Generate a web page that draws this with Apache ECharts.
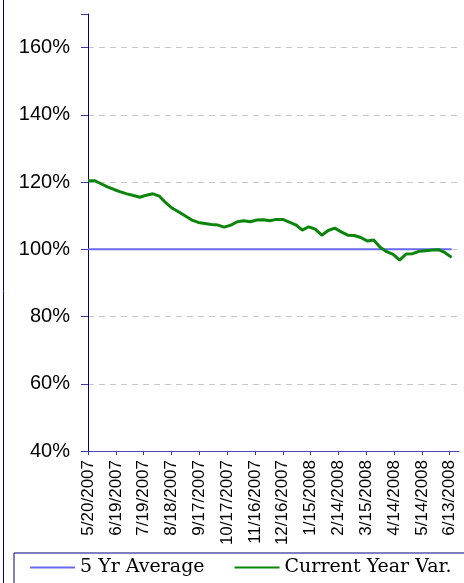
<!DOCTYPE html>
<html>
<head>
<meta charset="utf-8">
<script src="https://cdn.jsdelivr.net/npm/echarts@6/dist/echarts.min.js"></script>
<style>
  html, body { margin: 0; padding: 0; background: #fff; }
  #chart { width: 464px; height: 583px; }
</style>
</head>
<body>
<div id="chart"></div>
<script>
// axis runs daily from 5/20/2007 to 6/23/2008, labelled every 30 days
var axisStart = '2007-05-20'
var axisEnd = '2008-06-23'
var labelEvery = 30

// weekly readings, first one on 5/20/2007
var weekStep = 7
var currentYear = [
  120.4, 120.4, 119.5, 118.6, 117.8, 117.1, 116.5, 116.0, 115.5, 116.1,
  116.5, 115.8, 113.8, 112.2, 111.1, 109.9, 108.7, 108.0, 107.7, 107.4,
  107.2, 106.6, 107.2, 108.2, 108.5, 108.2, 108.7, 108.8, 108.5, 108.9,
  108.9, 108.1, 107.3, 105.7, 106.7, 106.0, 104.2, 105.6, 106.3, 105.2,
  104.2, 104.1, 103.5, 102.5, 102.8, 100.6, 99.3, 98.5, 96.8, 98.6,
  98.7, 99.4, 99.6, 99.8, 99.9, 99.0, 97.6
]
var fiveYrAvg = [
  100, 100, 100, 100, 100, 100, 100, 100, 100, 100,
  100, 100, 100, 100, 100, 100, 100, 100, 100, 100,
  100, 100, 100, 100, 100, 100, 100, 100, 100, 100,
  100, 100, 100, 100, 100, 100, 100, 100, 100, 100,
  100, 100, 100, 100, 100, 100, 100, 100, 100, 100,
  100, 100, 100, 100, 100, 100, 100
]

// build the daily category list
var days = []
var d = new Date(axisStart + 'T00:00:00Z')
var end = new Date(axisEnd + 'T00:00:00Z')
while (d <= end) {
  days.push((d.getUTCMonth() + 1) + '/' + d.getUTCDate() + '/' + d.getUTCFullYear())
  d = new Date(d.getTime() + 86400000)
}

function weekly(arr) {
  return arr.map(function (v, i) { return [days[i * weekStep], v] })
}

var chart = echarts.init(document.getElementById('chart'))
chart.setOption({
  animation: false,
  grid: { left: 88, top: 14, right: 5, bottom: 132 },
  graphic: [
    {
      type: 'line',
      shape: { x1: 3.5, y1: 0, x2: 3.5, y2: 583 },
      style: { stroke: '#00007f', lineWidth: 1 }
    }
  ],
  legend: {
    left: 14,
    top: 553,
    width: 600,
    padding: [5, 40, 40, 16],
    borderColor: '#00007f',
    borderWidth: 1,
    itemWidth: 45,
    itemHeight: 2,
    itemGap: 30,
    icon: 'rect',
    textStyle: { fontFamily: 'DejaVu Serif', fontSize: 19, color: '#000' },
    data: ['5 Yr Average', 'Current Year Var.']
  },
  xAxis: {
    type: 'category',
    data: days,
    boundaryGap: false,
    axisLine: { lineStyle: { color: '#4848b8', width: 1 } },
    axisTick: { interval: labelEvery - 1, length: 4, lineStyle: { color: '#3a3ab0', width: 1 } },
    axisLabel: {
      interval: labelEvery - 1,
      rotate: 90,
      margin: 9,
      fontFamily: 'Liberation Sans',
      fontSize: 17,
      color: '#000'
    },
    splitLine: { show: false }
  },
  yAxis: {
    type: 'value',
    min: 40,
    max: 170,
    interval: 20,
    axisLine: { show: true, lineStyle: { color: '#00007f', width: 1 } },
    axisTick: { show: true, length: 7, lineStyle: { color: '#3a3ab0', width: 1 } },
    axisLabel: {
      margin: 18,
      formatter: function (v) { return v > 160 ? '' : v + '%' },
      fontFamily: 'Liberation Sans',
      fontSize: 20,
      color: '#000'
    },
    splitLine: {
      show: true,
      showMinLine: false,
      showMaxLine: false,
      lineStyle: { color: '#c8c8c8', type: [6, 5], width: 1 }
    }
  },
  series: [
    {
      name: '5 Yr Average',
      type: 'line',
      data: weekly(fiveYrAvg),
      showSymbol: false,
      color: '#6a6aee',
      lineStyle: { width: 2, color: '#6a6aee' }
    },
    {
      name: 'Current Year Var.',
      type: 'line',
      data: weekly(currentYear),
      showSymbol: false,
      color: '#0a850a',
      lineStyle: { width: 3, color: '#0a850a' }
    }
  ]
})
</script>
</body>
</html>
